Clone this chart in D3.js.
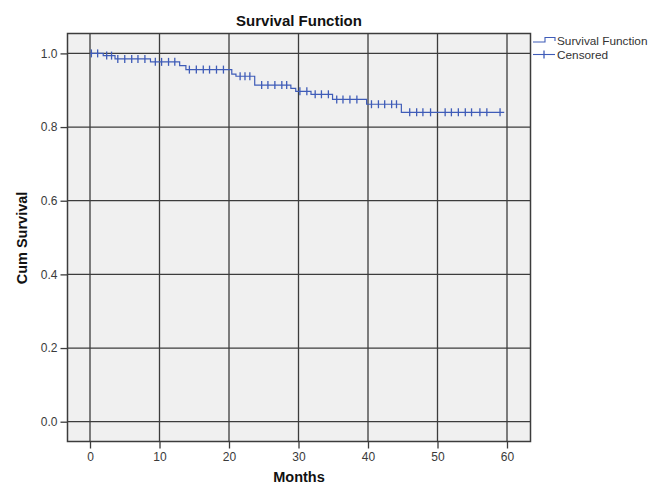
<!DOCTYPE html>
<html>
<head>
<meta charset="utf-8">
<script src="https://cdn.jsdelivr.net/npm/d3@7"></script>
<style>
	body { margin: 0; background: #fff; }
	text { font-family: "Liberation Sans", Arial, sans-serif; }
</style>
</head>
<body>
<svg id="chart" width="652" height="486"></svg>
<script>
// event times (months) and survival after each event
var eventTimes = [0, 1.9, 3.6, 8.7, 12.9, 13.8, 20.4, 21.0, 23.7, 28.9, 29.6, 31.8, 34.9, 39.8, 44.8];
var survival   = [1.0, 0.994, 0.985, 0.977, 0.967, 0.956, 0.944, 0.938, 0.914, 0.905, 0.897, 0.889, 0.875, 0.862, 0.840];
var lastTime = 59.6;

// censored observations (months)
var censorTimes = [0.2, 1.1, 2.4, 3.1, 4.0, 5.0, 6.0, 6.9, 7.9, 9.4, 10.3, 11.3, 12.2,
	14.3, 15.3, 16.3, 17.2, 18.2, 19.2, 21.6, 22.3, 23.0, 24.7, 25.6, 26.6, 27.6, 28.3,
	30.2, 31.2, 32.4, 33.3, 34.3, 35.5, 36.4, 37.4, 38.4, 40.5, 41.5, 42.4, 43.4, 44.1,
	46.0, 47.0, 47.9, 49.0, 51.1, 52.0, 53.0, 54.0, 54.9, 56.1, 57.1, 59.0];

var xTicks = [0, 10, 20, 30, 40, 50, 60];
var yTicks = [0.0, 0.2, 0.4, 0.6, 0.8, 1.0];

var frame = {left: 67.5, right: 530.5, top: 33.5, bottom: 441.5};
var blue = "#3f5cb8";

var x = d3.scaleLinear().domain([0, 60]).range([90, 507]);
var y = d3.scaleLinear().domain([0, 1]).range([421.7, 53.4]);

var svg = d3.select("#chart");

svg.append("rect")
	.attr("x", frame.left).attr("y", frame.top)
	.attr("width", frame.right - frame.left)
	.attr("height", frame.bottom - frame.top)
	.attr("fill", "#f0f0f0");

// grid
svg.append("g").selectAll("line")
	.data(xTicks)
	.enter().append("line")
	.attr("x1", function(d) { return x(d); })
	.attr("x2", function(d) { return x(d); })
	.attr("y1", frame.top).attr("y2", frame.bottom)
	.attr("stroke", "#3c3c3c").attr("stroke-width", 1.3);

svg.append("g").selectAll("line")
	.data(yTicks)
	.enter().append("line")
	.attr("y1", function(d) { return y(d); })
	.attr("y2", function(d) { return y(d); })
	.attr("x1", frame.left).attr("x2", frame.right)
	.attr("stroke", "#3c3c3c").attr("stroke-width", 1.3);

svg.append("rect")
	.attr("x", frame.left).attr("y", frame.top)
	.attr("width", frame.right - frame.left)
	.attr("height", frame.bottom - frame.top)
	.attr("fill", "none")
	.attr("stroke", "#3c3c3c").attr("stroke-width", 1.5);

// axes
var yAxis = d3.axisLeft(y).tickValues(yTicks).tickSize(7).tickPadding(3)
	.tickFormat(d3.format(".1f"));
var xAxis = d3.axisBottom(x).tickValues(xTicks).tickSize(7).tickPadding(4)
	.tickFormat(d3.format("d"));

var gy = svg.append("g").attr("transform", "translate(" + frame.left + ",0)").call(yAxis);
var gx = svg.append("g").attr("transform", "translate(0," + frame.bottom + ")").call(xAxis);

[gx, gy].forEach(function(g) {
	g.select(".domain").remove();
	g.selectAll(".tick line").attr("stroke", "#3c3c3c").attr("stroke-width", 1.3);
	g.selectAll(".tick text")
		.attr("fill", "#3a3a3a")
		.style("font-size", "12px")
		.style("font-family", "'Liberation Sans', Arial, sans-serif");
});

// survival curve
var pts = eventTimes.map(function(t, i) { return [t, survival[i]]; });
pts.push([lastTime, survival[survival.length - 1]]);

var line = d3.line()
	.x(function(d) { return x(d[0]); })
	.y(function(d) { return y(d[1]); })
	.curve(d3.curveStepAfter);

svg.append("path")
	.datum(pts)
	.attr("d", line)
	.attr("fill", "none")
	.attr("stroke", blue)
	.attr("stroke-width", 1.2);

function survAt(t) {
	var s = 1;
	for (var i = 0; i < eventTimes.length; i++) {
		if (eventTimes[i] <= t) s = survival[i];
	}
	return s;
}

svg.append("g").selectAll("line")
	.data(censorTimes)
	.enter().append("line")
	.attr("x1", function(d) { return x(d); })
	.attr("x2", function(d) { return x(d); })
	.attr("y1", function(d) { return y(survAt(d)) - 4; })
	.attr("y2", function(d) { return y(survAt(d)) + 4; })
	.attr("stroke", blue)
	.attr("stroke-width", 1.3);

// titles
svg.append("text")
	.attr("x", 299).attr("y", 26)
	.attr("text-anchor", "middle")
	.style("font-size", "15px").style("font-weight", "bold")
	.attr("fill", "#111")
	.text("Survival Function");

svg.append("text")
	.attr("transform", "translate(27,238) rotate(-90)")
	.attr("text-anchor", "middle")
	.style("font-size", "14.5px").style("font-weight", "bold")
	.attr("fill", "#111")
	.text("Cum Survival");

svg.append("text")
	.attr("x", 299).attr("y", 482)
	.attr("text-anchor", "middle")
	.style("font-size", "14.5px").style("font-weight", "bold")
	.attr("fill", "#111")
	.text("Months");

// legend
var leg = svg.append("g");
leg.append("path")
	.attr("d", "M533,42H545V37.5H555V41")
	.attr("fill", "none").attr("stroke", blue).attr("stroke-width", 1.1);
leg.append("line")
	.attr("x1", 533).attr("x2", 555).attr("y1", 54.5).attr("y2", 54.5)
	.attr("stroke", blue).attr("stroke-width", 1.1);
leg.append("line")
	.attr("x1", 544).attr("x2", 544).attr("y1", 50.5).attr("y2", 58.5)
	.attr("stroke", blue).attr("stroke-width", 1.3);
leg.append("text")
	.attr("x", 557).attr("y", 45)
	.style("font-size", "11.8px").attr("fill", "#333")
	.text("Survival Function");
leg.append("text")
	.attr("x", 557).attr("y", 58.5)
	.style("font-size", "11.8px").attr("fill", "#333")
	.text("Censored");
</script>
</body>
</html>
